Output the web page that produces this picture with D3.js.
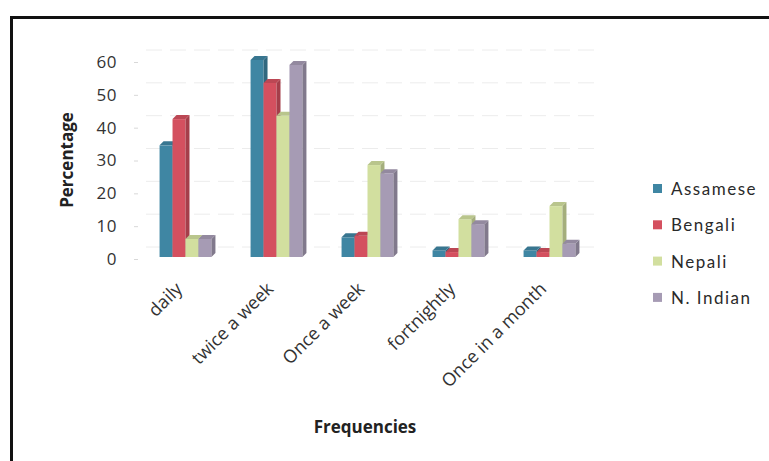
<!DOCTYPE html>
<html lang="en">
<head>
<meta charset="UTF-8">
<title>Frequencies by community</title>
<script src="https://d3js.org/d3.v7.min.js"></script>
<style>
  body { margin: 0; background: #fff; }
  svg { display: block; }
</style>
</head>
<body>
<svg width="769" height="461"></svg>
<script>
// data
const categories = ["daily", "twice a week", "Once a week", "fortnightly", "Once in a month"];
const groups = ["Assamese", "Bengali", "Nepali", "N. Indian"];
const assamese = [34, 60, 6, 2, 2];
const bengali = [42, 53, 6.5, 1.5, 1.5];
const nepali = [5.5, 43, 28, 11.5, 15.5];
const nIndian = [5.5, 58.5, 25.5, 10, 4];
const yTicks = [0, 10, 20, 30, 40, 50, 60];
const colors = ["#3f86a3", "#d4505f", "#d2df9f", "#a69bb4"];

const series = [assamese, bengali, nepali, nIndian];
const depth = 4;

const svg = d3.select("svg");

// frame (cut off at right and bottom in the scan)
svg.append("rect")
    .attr("x", 11.5).attr("y", 17.5)
    .attr("width", 790).attr("height", 480)
    .attr("fill", "none")
    .attr("stroke", "#111")
    .attr("stroke-width", 3);

const x0 = d3.scaleBand()
    .domain(categories)
    .range([140, 595])
    .paddingInner(0.43)
    .paddingOuter(0.215);

const x1 = d3.scaleBand()
    .domain(groups)
    .range([0, x0.bandwidth()]);

const y = d3.scaleLinear()
    .domain([0, 60])
    .range([257, 60]);

// gridlines on the back wall
svg.append("g")
    .selectAll("line")
    .data(yTicks)
    .join("line")
    .attr("x1", 146).attr("x2", 600)
    .attr("y1", d => y(d) - 10).attr("y2", d => y(d) - 10)
    .attr("stroke", "#ececec")
    .attr("stroke-dasharray", "16,8")
    .attr("stroke-width", 1);

// y axis
const yAxis = svg.append("g")
    .attr("transform", "translate(138,2)")
    .call(d3.axisLeft(y).tickValues(yTicks).tickSize(4).tickPadding(17));
yAxis.select(".domain").remove();
yAxis.selectAll(".tick line").attr("stroke", "#d8d8d8");
yAxis.selectAll(".tick text")
    .attr("fill", "#333")
    .style("font", "17px 'Open Sans', sans-serif")
    .style("letter-spacing", "0.5px");

// bars with a little 3D
const bars = svg.append("g");
categories.forEach((cat, ci) => {
    series.forEach((vals, si) => {
        const v = vals[ci];
        const c = colors[si];
        const bx = x0(cat) + x1(groups[si]);
        const w = x1.bandwidth();
        const top = y(v), bot = y(0);
        const g = bars.append("g");
        g.append("rect")
            .attr("x", bx).attr("y", top)
            .attr("width", w).attr("height", bot - top)
            .attr("fill", c);
        g.append("path")
            .attr("d", `M${bx + w},${top}L${bx + w + depth},${top - depth}L${bx + w + depth},${bot - depth}L${bx + w},${bot}Z`)
            .attr("fill", d3.color(c).darker(0.7));
        g.append("path")
            .attr("d", `M${bx},${top}L${bx + depth},${top - depth}L${bx + w + depth},${top - depth}L${bx + w},${top}Z`)
            .attr("fill", d3.color(c).darker(0.35));
    });
});

// category labels
svg.append("g")
    .selectAll("text")
    .data(categories)
    .join("text")
    .attr("transform", d => `translate(${x0(d) + x0.bandwidth() / 2 - 2},${290}) rotate(-45)`)
    .attr("text-anchor", "end")
    .attr("fill", "#333")
    .style("font", "18px 'Open Sans', sans-serif")
    .text(d => d);

// axis titles
svg.append("text")
    .attr("transform", "translate(73,160) rotate(-90)")
    .attr("text-anchor", "middle")
    .attr("fill", "#222")
    .style("font", "bold 17px 'Open Sans', sans-serif")
    .text("Percentage");

svg.append("text")
    .attr("x", 365).attr("y", 433)
    .attr("text-anchor", "middle")
    .attr("fill", "#222")
    .style("font", "bold 17px 'Open Sans', sans-serif")
    .text("Frequencies");

// legend
const legend = svg.append("g")
    .selectAll("g")
    .data(groups)
    .join("g")
    .attr("transform", (d, i) => `translate(653,${189 + i * 36.3})`);
legend.append("rect")
    .attr("x", 0).attr("y", -5)
    .attr("width", 9).attr("height", 9)
    .attr("fill", (d, i) => colors[i]);
legend.append("text")
    .attr("x", 18).attr("dy", "0.35em")
    .attr("fill", "#2a2a2a")
    .style("font", "17px Lato, sans-serif")
    .style("letter-spacing", "1.5px")
    .text(d => d);
</script>
</body>
</html>
